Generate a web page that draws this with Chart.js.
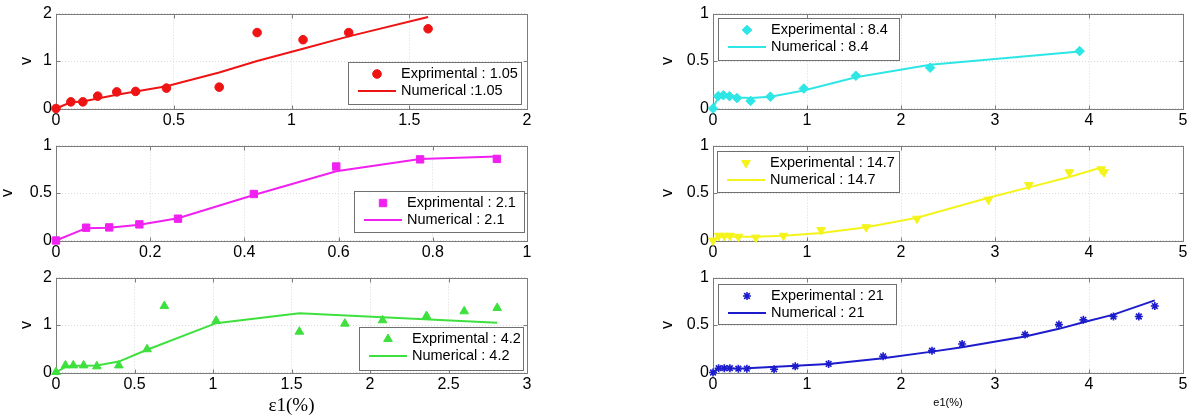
<!DOCTYPE html>
<html>
<head>
<meta charset="utf-8">
<script src="https://cdn.jsdelivr.net/npm/chart.js@4.4.0/dist/chart.umd.min.js"></script>
<style>
html, body { margin: 0; padding: 0; background: #fff; }
body { position: relative; width: 1195px; height: 419px; overflow: hidden; }
canvas { position: absolute; }
</style>
</head>
<body>
<canvas id="c1" width="545" height="132" style="left:0px;top:0px"></canvas>
<canvas id="c2" width="545" height="132" style="left:0px;top:132px"></canvas>
<canvas id="c3" width="545" height="155" style="left:0px;top:264px"></canvas>
<canvas id="c4" width="555" height="132" style="left:640px;top:0px"></canvas>
<canvas id="c5" width="555" height="132" style="left:640px;top:132px"></canvas>
<canvas id="c6" width="555" height="155" style="left:640px;top:264px"></canvas>
<script>
// strain e1 (%) vs v, one panel per confining pressure
const expX1 = [0, 0.063, 0.114, 0.177, 0.258, 0.338, 0.469, 0.693, 0.854, 1.049, 1.243, 1.58];
const expY1 = [0, 0.14, 0.14, 0.26, 0.35, 0.36, 0.43, 0.45, 1.60, 1.45, 1.60, 1.68];
const numX1 = [0, 0.063, 0.114, 0.177, 0.258, 0.338, 0.469, 0.693, 0.854, 1.049, 1.243, 1.58];
const numY1 = [0, 0.13, 0.15, 0.21, 0.29, 0.36, 0.47, 0.76, 1.0, 1.26, 1.52, 1.93];

const expX2 = [0, 0.064, 0.113, 0.177, 0.259, 0.42, 0.595, 0.773, 0.936];
const expY2 = [0, 0.135, 0.138, 0.17, 0.23, 0.49, 0.78, 0.855, 0.86];
const numX2 = [0, 0.064, 0.113, 0.177, 0.259, 0.42, 0.595, 0.773, 0.936];
const numY2 = [0, 0.13, 0.135, 0.165, 0.235, 0.48, 0.73, 0.86, 0.885];

const expX3 = [0, 0.06, 0.11, 0.176, 0.26, 0.40, 0.58, 0.69, 1.02, 1.55, 1.84, 2.08, 2.36, 2.60, 2.81];
const expY3 = [0.01, 0.15, 0.15, 0.15, 0.13, 0.15, 0.49, 1.40, 1.09, 0.86, 1.03, 1.10, 1.19, 1.29, 1.36];
const numX3 = [0, 0.06, 0.11, 0.176, 0.26, 0.40, 0.58, 1.02, 1.55, 2.81];
const numY3 = [0, 0.12, 0.14, 0.14, 0.15, 0.23, 0.48, 1.04, 1.25, 1.05];

const expX4 = [0, 0.055, 0.11, 0.175, 0.255, 0.40, 0.61, 0.966, 1.52, 2.31, 3.90];
const expY4 = [0, 0.13, 0.14, 0.13, 0.11, 0.08, 0.125, 0.21, 0.345, 0.43, 0.605];
const numX4 = [0, 0.055, 0.11, 0.175, 0.255, 0.40, 0.61, 0.966, 1.52, 2.31, 3.90];
const numY4 = [0, 0.12, 0.13, 0.125, 0.115, 0.11, 0.125, 0.19, 0.33, 0.46, 0.60];

const expX5 = [0, 0.06, 0.12, 0.18, 0.27, 0.455, 0.75, 1.15, 1.63, 2.17, 2.93, 3.36, 3.79, 4.13, 4.16];
const expY5 = [0, 0.05, 0.05, 0.05, 0.04, 0.03, 0.05, 0.11, 0.14, 0.23, 0.43, 0.585, 0.72, 0.75, 0.72];
const numX5 = [0, 0.06, 0.2, 0.45, 0.75, 1.15, 1.63, 2.17, 2.93, 3.36, 3.79, 4.13];
const numY5 = [0, 0.04, 0.04, 0.04, 0.05, 0.08, 0.14, 0.24, 0.45, 0.56, 0.67, 0.77];

const expX6 = [0, 0.06, 0.12, 0.18, 0.27, 0.36, 0.65, 0.875, 1.23, 1.81, 2.33, 2.65, 3.32, 3.68, 3.94, 4.26, 4.53, 4.70];
const expY6 = [0, 0.045, 0.045, 0.045, 0.04, 0.04, 0.035, 0.065, 0.09, 0.17, 0.23, 0.30, 0.40, 0.505, 0.555, 0.59, 0.59, 0.70];
const numX6 = [0, 0.06, 0.36, 0.875, 1.23, 1.81, 2.33, 2.65, 3.32, 3.68, 3.94, 4.26, 4.70];
const numY6 = [0, 0.04, 0.045, 0.07, 0.09, 0.15, 0.22, 0.265, 0.38, 0.46, 0.53, 0.61, 0.76];

const SANS = '"Liberation Sans", Arial, sans-serif';

function pts(xs, ys) {
    return xs.map((x, i) => ({ x: x, y: ys[i] }));
}

// box around the plot area plus small inward tick marks
const framePlugin = {
    id: 'frame',
    beforeDatasetsDraw(chart) {
        const { ctx, chartArea: a, scales } = chart;
        const l = Math.round(a.left) + 0.5, r = Math.round(a.right) + 0.5;
        const t = Math.round(a.top) + 0.5, b = Math.round(a.bottom) + 0.5;
        ctx.save();
        ctx.strokeStyle = '#7c7c7c';
        ctx.lineWidth = 1;
        ctx.strokeRect(l, t, r - l, b - t);
        ctx.beginPath();
        scales.x.ticks.forEach(tk => {
            const px = Math.round(scales.x.getPixelForValue(tk.value)) + 0.5;
            ctx.moveTo(px, b); ctx.lineTo(px, b - 4);
            ctx.moveTo(px, t); ctx.lineTo(px, t + 4);
        });
        scales.y.ticks.forEach(tk => {
            const py = Math.round(scales.y.getPixelForValue(tk.value)) + 0.5;
            ctx.moveTo(l, py); ctx.lineTo(l + 4, py);
            ctx.moveTo(r, py); ctx.lineTo(r - 4, py);
        });
        ctx.stroke();
        ctx.restore();
    }
};

// matlab style legend box inside the axes
const boxLegend = {
    id: 'boxLegend',
    afterDraw(chart, args, opts) {
        const { ctx } = chart;
        const ds = chart.data.datasets;
        ctx.save();
        ctx.fillStyle = '#fff';
        ctx.fillRect(opts.x, opts.y, opts.w, opts.h);
        ctx.strokeStyle = '#707070';
        ctx.lineWidth = 1;
        ctx.strokeRect(opts.x + 0.5, opts.y + 0.5, opts.w, opts.h);
        const y1 = opts.y + 12, y2 = opts.y + 29;
        const mx = opts.x + 29;
        // marker row
        ctx.fillStyle = ds[0].pointBackgroundColor;
        ctx.strokeStyle = ds[0].pointBorderColor;
        ctx.lineWidth = ds[0].pointBorderWidth;
        Chart.helpers.drawPoint(ctx, {
            pointStyle: ds[0].pointStyle,
            rotation: ds[0].pointRotation || 0,
            radius: ds[0].pointRadius,
            borderWidth: ds[0].pointBorderWidth
        }, mx, y1);
        // line row
        ctx.strokeStyle = ds[1].borderColor;
        ctx.lineWidth = ds[1].borderWidth;
        ctx.beginPath();
        ctx.moveTo(opts.x + 10, y2);
        ctx.lineTo(opts.x + 48, y2);
        ctx.stroke();
        ctx.fillStyle = '#000';
        ctx.font = '14.5px ' + SANS;
        ctx.textBaseline = 'middle';
        ctx.textAlign = 'left';
        ctx.fillText(ds[0].label, opts.x + 53, y1);
        ctx.fillText(ds[1].label, opts.x + 53, y2);
        ctx.restore();
    }
};

function makeChart(id, c) {
    new Chart(document.getElementById(id), {
        type: 'scatter',
        data: {
            datasets: [{
                label: c.labels[0],
                data: pts(c.ex, c.ey),
                showLine: false,
                pointStyle: c.marker,
                pointRotation: c.rot || 0,
                pointRadius: c.r,
                pointHoverRadius: c.r,
                pointBackgroundColor: c.color,
                pointBorderColor: c.color,
                pointBorderWidth: c.bw || 1,
                clip: false
            }, {
                label: c.labels[1],
                data: pts(c.nx, c.ny),
                showLine: true,
                borderColor: c.color,
                borderWidth: 2,
                pointRadius: 0,
                pointHoverRadius: 0,
                tension: 0,
                clip: false
            }]
        },
        options: {
            responsive: false,
            animation: false,
            events: [],
            layout: { padding: { top: 13, right: c.padR, left: 0, bottom: 0 } },
            plugins: {
                legend: { display: false },
                tooltip: { enabled: false },
                boxLegend: c.legend
            },
            scales: {
                x: {
                    type: 'linear',
                    min: 0, max: c.xmax,
                    afterFit(s) { s.height = c.xh; },
                    grid: { color: '#d9d9d9', drawTicks: false },
                    border: { display: false, dash: [1, 2] },
                    ticks: {
                        stepSize: c.xstep, padding: 2, maxRotation: 0, autoSkip: false,
                        color: '#000', font: { family: SANS, size: 16 },
                        callback: v => String(Math.round(v * 100) / 100)
                    },
                    title: c.xtitle || { display: false }
                },
                y: {
                    type: 'linear',
                    min: 0, max: c.ymax,
                    afterFit(s) { s.width = c.yw; },
                    grid: { color: '#d9d9d9', drawTicks: false },
                    border: { display: false, dash: [1, 2] },
                    ticks: {
                        stepSize: c.ystep, padding: 4, autoSkip: false,
                        color: '#000', font: { family: SANS, size: 16 },
                        callback: v => String(Math.round(v * 100) / 100)
                    },
                    title: {
                        display: true, text: 'v', color: '#000',
                        font: { family: SANS, size: 16, lineHeight: 1 },
                        padding: { top: c.vpad, bottom: 0 }
                    }
                }
            }
        },
        plugins: [framePlugin, boxLegend]
    });
}

const RED = '#ee1414', MAG = '#f020f0', GRN = '#3ee03e';
const CYN = '#2ee6e6', YEL = '#f4f41c', BLU = '#1c1ccc';

makeChart('c1', {
    ex: expX1, ey: expY1, nx: numX1, ny: numY1,
    labels: ['Exprimental : 1.05', 'Numerical :1.05'],
    marker: 'circle', r: 4.3, color: RED,
    xmax: 2, xstep: 0.5, ymax: 2, ystep: 1,
    yw: 56, padR: 18, xh: 23.5, vpad: 19,
    legend: { x: 348, y: 62, w: 173, h: 42 }
});
makeChart('c2', {
    ex: expX2, ey: expY2, nx: numX2, ny: numY2,
    labels: ['Exprimental : 2.1', 'Numerical : 2.1'],
    marker: 'rect', r: 5.2, color: MAG,
    xmax: 1, xstep: 0.2, ymax: 1, ystep: 0.5,
    yw: 56, padR: 18, xh: 23.5, vpad: 0,
    legend: { x: 354, y: 59, w: 170, h: 41 }
});
makeChart('c3', {
    ex: expX3, ey: expY3, nx: numX3, ny: numY3,
    labels: ['Exprimental : 4.2', 'Numerical : 4.2'],
    marker: 'triangle', r: 5, color: GRN,
    xmax: 3, xstep: 0.5, ymax: 2, ystep: 1,
    yw: 56, padR: 18, xh: 46.5, vpad: 19,
    xtitle: {
        display: true, text: 'ε1(%)', color: '#000',
        font: { family: '"Liberation Serif", "Times New Roman", serif', size: 19 },
        padding: { top: 0, bottom: 1.6 }
    },
    legend: { x: 359, y: 63, w: 164, h: 43 }
});
makeChart('c4', {
    ex: expX4, ey: expY4, nx: numX4, ny: numY4,
    labels: ['Experimental : 8.4', 'Numerical : 8.4'],
    marker: 'rectRot', r: 4.8, color: CYN,
    xmax: 5, xstep: 1, ymax: 1, ystep: 0.5,
    yw: 73, padR: 12, xh: 23.5, vpad: 20,
    legend: { x: 78, y: 18, w: 181, h: 42 }
});
makeChart('c5', {
    ex: expX5, ey: expY5, nx: numX5, ny: numY5,
    labels: ['Experimental : 14.7', 'Numerical : 14.7'],
    marker: 'triangle', rot: 180, r: 5, color: YEL,
    xmax: 5, xstep: 1, ymax: 1, ystep: 0.5,
    yw: 73, padR: 12, xh: 23.5, vpad: 20,
    legend: { x: 77, y: 19, w: 182, h: 41 }
});
makeChart('c6', {
    ex: expX6, ey: expY6, nx: numX6, ny: numY6,
    labels: ['Experimental : 21', 'Numerical : 21'],
    marker: 'star', r: 4, bw: 1.6, color: BLU,
    xmax: 5, xstep: 1, ymax: 1, ystep: 0.5,
    yw: 73, padR: 12, xh: 46.5, vpad: 20,
    xtitle: {
        display: true, text: 'e1(%)', color: '#000',
        font: { family: SANS, size: 11 },
        padding: { top: 0, bottom: 9.4 }
    },
    legend: { x: 78, y: 20, w: 178, h: 40 }
});
</script>
</body>
</html>
